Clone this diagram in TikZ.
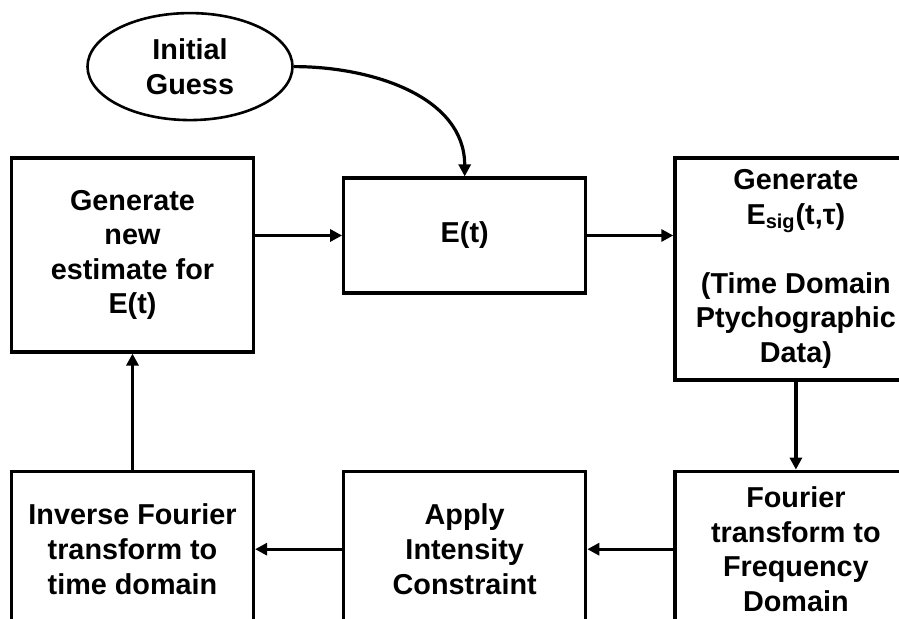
\documentclass[tikz,border=0pt]{standalone}
\usepackage{fontspec}
\setmainfont{Liberation Sans}
\usetikzlibrary{shapes.geometric,arrows.meta,positioning}
\tikzset{
  blk/.style = {rectangle, draw=black, line width=1.6pt, align=center,
                font=\fontsize{14.4}{17.3}\selectfont\bfseries,
                minimum width=121pt, inner sep=2pt},
  ell/.style = {ellipse, draw=black, line width=1.3pt, align=center,
                font=\fontsize{14.4}{17.3}\selectfont\bfseries,
                minimum width=102.5pt, minimum height=53.5pt, inner sep=0pt},
  fl/.style  = {-{Triangle[length=6pt,width=6pt]}, line width=1.6pt, black},
}
\begin{document}
\begin{tikzpicture}

  \clip (0,0) rectangle (449.5pt,-309.5pt);

  \node[blk, minimum height=97pt] (gen) at (66.25pt,-127.5pt) {Generate\\new\\estimate for\\E(t)};
  \node[ell, above=17.5pt of gen, xshift=28.75pt] (ig) {Initial\\Guess};

  \node[blk, minimum height=78pt, below=58pt of gen] (ift) {Inverse Fourier\\transform to\\time domain};
  \node[blk, minimum height=78pt, right=43.5pt of ift] (app) {Apply\\Intensity\\Constraint};
  \node[blk, minimum height=78pt, right=43pt of app] (ft) {Fourier\\transform to\\Frequency\\Domain};

  \node[blk, minimum height=57.5pt, above=87.5pt of app] (et) {E(t)};
  \node[blk, minimum height=111pt, above=44pt of ft] (esig) {Generate\\E\textsubscript{sig}(t,τ)\\~\\(Time Domain\\Ptychographic\\Data)};

  \draw[fl] (ig.east) to[out=0, in=90] (et.north);
  \draw[fl] (et.west -| gen.east) -- (et.west);
  \draw[fl] (et.east) -- (et.east -| esig.west);
  \draw[fl] (esig) -- (ft);
  \draw[fl] (ft) -- (app);
  \draw[fl] (app) -- (ift);
  \draw[fl] (ift) -- (gen);

\end{tikzpicture}
\end{document}
